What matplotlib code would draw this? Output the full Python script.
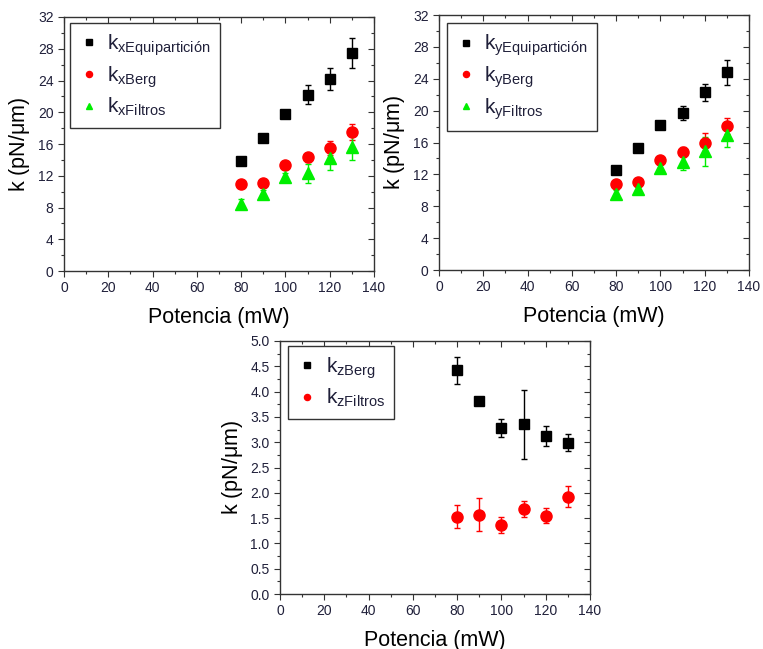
import matplotlib.pyplot as plt
from matplotlib.ticker import MultipleLocator

plt.rcParams['font.family'] = ['Liberation Sans', 'DejaVu Sans']
plt.rcParams['mathtext.fontset'] = 'custom'
plt.rcParams['mathtext.rm'] = 'Liberation Sans'

potencia = [80, 90, 100, 110, 120, 130]

# x direction
kx_equi = [13.9, 16.8, 19.8, 22.2, 24.2, 27.5]
kx_equi_err = [0.4, 0.3, 0.3, 1.2, 1.4, 1.9]
kx_berg = [11.0, 11.1, 13.3, 14.3, 15.5, 17.5]
kx_berg_err = [0.3, 0.3, 0.4, 0.6, 0.9, 1.0]
kx_filt = [8.5, 9.7, 11.9, 12.3, 14.2, 15.6]
kx_filt_err = [0.6, 0.5, 0.5, 1.2, 1.5, 1.6]

# y direction
ky_equi = [12.5, 15.3, 18.2, 19.7, 22.3, 24.8]
ky_equi_err = [0.3, 0.3, 0.3, 0.9, 1.1, 1.6]
ky_berg = [10.8, 11.1, 13.8, 14.8, 15.9, 18.1]
ky_berg_err = [0.3, 0.3, 0.4, 0.6, 1.3, 1.0]
ky_filt = [9.6, 10.2, 12.8, 13.5, 14.9, 17.0]
ky_filt_err = [0.5, 0.4, 0.5, 1.0, 1.8, 1.6]

# z direction
kz_berg = [4.42, 3.82, 3.28, 3.35, 3.13, 2.99]
kz_berg_err = [0.27, 0.05, 0.17, 0.69, 0.20, 0.17]
kz_filt = [1.53, 1.57, 1.37, 1.68, 1.55, 1.92]
kz_filt_err = [0.23, 0.33, 0.16, 0.16, 0.15, 0.21]

xlabel = 'Potencia (mW)'
ylabel = r'k (pN/$\mathregular{\mu}$m)'
tick_col = '#20203a'

W, H = 763, 649
fig = plt.figure(figsize=(W / 100, H / 100), dpi=100)


def px_axes(left, right, top, bottom):
    return fig.add_axes([left / W, 1 - bottom / H, (right - left) / W, (bottom - top) / H])


def style(ax, ymax, ymajor, yminor):
    ax.set_xlim(0, 140)
    ax.set_ylim(0, ymax)
    ax.xaxis.set_major_locator(MultipleLocator(20))
    ax.xaxis.set_minor_locator(MultipleLocator(10))
    ax.yaxis.set_major_locator(MultipleLocator(ymajor))
    ax.yaxis.set_minor_locator(MultipleLocator(yminor))
    ax.tick_params(which='both', direction='out', top=False, right=False,
                   labelsize=10, colors='#333333', labelcolor=tick_col, width=0.8)
    ax.tick_params(which='major', length=4)
    ax.tick_params(which='minor', length=2.5)
    sec_x = ax.secondary_xaxis('top')
    sec_y = ax.secondary_yaxis('right')
    for sec, axis in ((sec_x, sec_x.xaxis), (sec_y, sec_y.yaxis)):
        sec.tick_params(which='both', direction='in', labelsize=0, width=0.8,
                        colors='#333333')
        sec.tick_params(which='major', length=4)
        sec.tick_params(which='minor', length=2.5)
        axis.set_major_formatter(plt.NullFormatter())
    sec_x.xaxis.set_major_locator(MultipleLocator(20))
    sec_x.xaxis.set_minor_locator(MultipleLocator(10))
    sec_y.yaxis.set_major_locator(MultipleLocator(ymajor))
    sec_y.yaxis.set_minor_locator(MultipleLocator(yminor))
    for sp in ax.spines.values():
        sp.set_color('#333333')
        sp.set_linewidth(1.0)
    for sec in (sec_x, sec_y):
        for sp in sec.spines.values():
            sp.set_visible(False)
    ax.set_xlabel(xlabel, fontsize=15.5, labelpad=8)
    ax.set_ylabel(ylabel, fontsize=15.5, labelpad=4)


def series(ax, y, err, marker, color, ms):
    c = ax.errorbar(potencia, y, yerr=err, fmt=marker, color=color, ms=ms,
                    capsize=2.5, elinewidth=1.0, capthick=1.0, mec=color)
    return c[0]


def legend(ax, handles, labels, anchor):
    leg = ax.legend(handles, labels, loc='upper left', bbox_to_anchor=anchor,
                    borderaxespad=0, fancybox=False, edgecolor='#333333',
                    framealpha=1, fontsize=15, markerscale=0.55,
                    handlelength=0.9, handletextpad=0.45, labelspacing=0.3,
                    borderpad=0.45, labelcolor=tick_col)
    leg.get_frame().set_linewidth(1.0)


def lab(axis, name):
    return r'$\mathregular{k_{%s%s}}$' % (axis, name)


# top-left: x
ax1 = px_axes(64, 374, 17, 271)
h1 = [series(ax1, kx_equi, kx_equi_err, 's', 'black', 7),
      series(ax1, kx_berg, kx_berg_err, 'o', 'red', 8),
      series(ax1, kx_filt, kx_filt_err, '^', '#00ee00', 9)]
style(ax1, 32, 4, 2)
legend(ax1, h1, [lab('x', 'Equipartición'), lab('x', 'Berg'), lab('x', 'Filtros')],
       (0.019, 0.976))

# top-right: y
ax2 = px_axes(439, 749, 15, 270)
h2 = [series(ax2, ky_equi, ky_equi_err, 's', 'black', 7),
      series(ax2, ky_berg, ky_berg_err, 'o', 'red', 8),
      series(ax2, ky_filt, ky_filt_err, '^', '#00ee00', 9)]
style(ax2, 32, 4, 2)
legend(ax2, h2, [lab('y', 'Equipartición'), lab('y', 'Berg'), lab('y', 'Filtros')],
       (0.025, 0.967))

# bottom: z
ax3 = px_axes(280, 590, 341, 594)
h3 = [series(ax3, kz_berg, kz_berg_err, 's', 'black', 7),
      series(ax3, kz_filt, kz_filt_err, 'o', 'red', 8)]
style(ax3, 5.0, 0.5, 0.25)
ax3.yaxis.set_major_formatter(plt.FormatStrFormatter('%.1f'))
legend(ax3, h3, [lab('z', 'Berg'), lab('z', 'Filtros')], (0.026, 0.98))

fig.savefig('out.png', dpi=100)
